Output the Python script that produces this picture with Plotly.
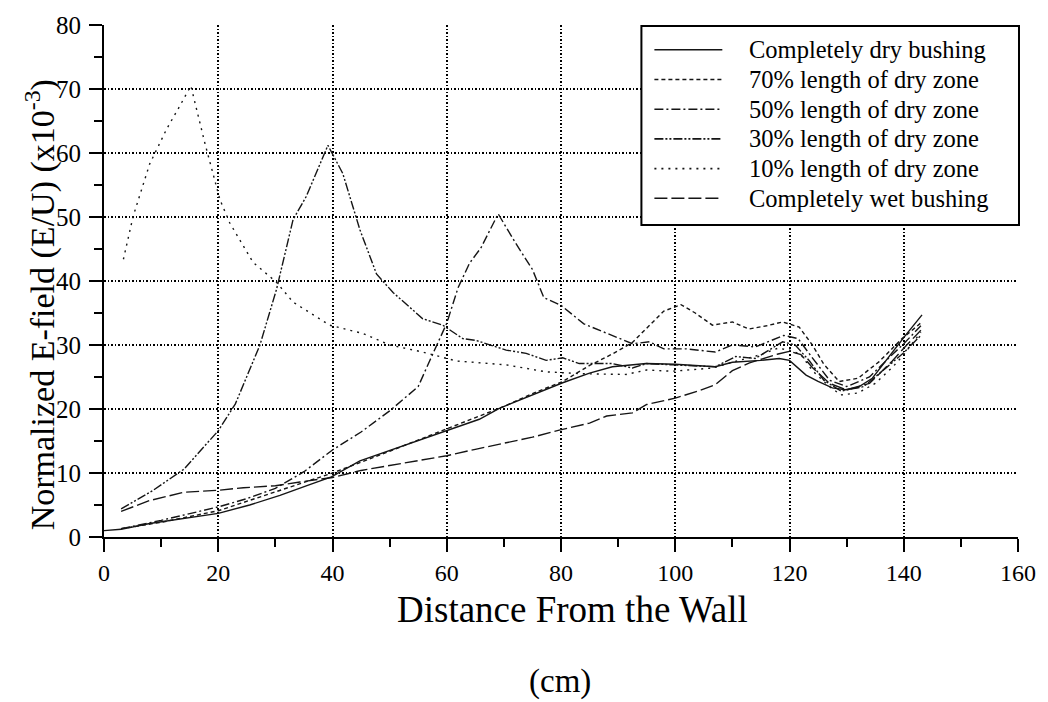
import plotly.graph_objects as go

# ---------------- data ----------------
series_names = [
    "Completely dry bushing",
    "70% length of dry zone",
    "50% length of dry zone",
    "30% length of dry zone",
    "10% length of dry zone",
    "Completely wet bushing",
]

x_dry = [0, 3, 8, 14, 20, 25.5, 30.8, 35.4, 39.8, 44.8, 49, 55, 60, 65.7, 69.2, 75.6, 80.3, 85, 89, 94.9,
         100, 107, 110, 115, 118.2, 120, 122.9, 125, 127.5, 129.8, 132, 134.5, 138, 140.3, 143.2]
y_dry = [1.0, 1.2, 2.1, 2.9, 3.7, 5.0, 6.5, 8.0, 9.4, 11.9, 13.2, 15.0, 16.6, 18.4, 20.1, 22.4, 24.1, 25.6, 26.6, 27.1,
         27.0, 26.6, 27.3, 27.6, 27.9, 27.6, 25.3, 24.3, 23.3, 23.0, 23.4, 24.8, 28.9, 31.5, 34.7]

x_70 = [3, 10, 20, 30, 40, 50, 60, 70, 75, 80.3, 85, 89, 92.5, 95, 98, 101, 103.5, 106.5, 110, 112.9,
        116, 118.8, 121.7, 124, 126, 128.7, 132, 135.7, 139.7, 143.2]
y_70 = [1.3, 2.3, 4.1, 7.1, 10.0, 13.4, 16.9, 20.4, 22.4, 24.3, 26.8, 28.6, 30.4, 32.6, 35.3, 36.3, 35.0, 33.1, 33.6, 32.5,
        33.0, 33.6, 32.8, 30.0, 27.0, 24.3, 24.8, 27.4, 31.0, 33.6]

x_50 = [3, 10, 20, 25, 30, 35, 40, 45, 50, 53, 55, 57, 60, 62, 64, 66, 69, 72, 75, 77, 80, 84, 89, 92.5,
        95.5, 98, 102, 107, 110, 114, 119, 121.5, 124, 127, 130, 134, 138, 140, 143]
y_50 = [1.3, 2.6, 4.7, 6.0, 7.6, 10.2, 13.6, 16.4, 19.7, 22.0, 23.5, 27.5, 33.4, 39.0, 42.8, 45.2, 50.5, 46.0, 41.8, 37.4,
        36.2, 33.3, 31.5, 30.2, 30.5, 29.4, 29.4, 28.9, 30.0, 29.7, 31.5, 31.0, 28.0, 24.5, 23.5, 25.0, 28.5, 30.2, 33.0]

x_30 = [3, 8.6, 14, 20, 23, 27.3, 30.2, 33.1, 35.4, 39.2, 41.8, 44.8, 47.7, 50.6, 55.8, 59.3, 62.8, 65.2, 70.4,
        73.9, 77.4, 80.3, 83.2, 89, 92.5, 95, 99.5, 107, 110.6, 114, 118.8, 121, 123.5, 126, 129, 133, 137, 140, 143]
y_30 = [4.4, 7.3, 10.6, 16.6, 20.8, 30.0, 38.7, 49.6, 53.2, 61.2, 56.8, 48.0, 41.1, 38.2, 34.1, 33.1, 31.0, 30.7, 29.2,
        28.7, 27.6, 28.0, 27.1, 27.1, 26.4, 27.1, 26.9, 26.6, 28.2, 27.9, 30.5, 30.0, 27.5, 24.5, 22.8, 23.5, 26.5, 28.8, 31.5]

x_10 = [3.4, 5.1, 8, 11, 13.3, 15.2, 17.7, 20.3, 22, 26.1, 30.2, 33.1, 39.5, 45.3, 50, 55.8, 61.7, 70.4, 77.4,
        84, 91.4, 95, 99.5, 106.5, 110, 115, 118, 120, 122, 124, 127, 129, 132, 135, 138, 140, 143]
y_10 = [43.4, 50.1, 58.3, 63.8, 67.4, 70.5, 61.4, 52.7, 49.1, 42.9, 39.8, 36.7, 33.1, 31.8, 30.0, 28.9, 27.5, 26.9, 25.8,
        25.5, 25.4, 26.1, 25.9, 26.4, 27.3, 28.5, 29.5, 29.2, 28.5, 26.0, 23.5, 22.2, 22.5, 24.0, 26.5, 28.5, 32.0]

x_wet = [3, 8, 14, 20, 24.4, 30, 34.3, 40, 45, 50, 55, 60, 65, 70.4, 75, 79.7, 85, 88, 92.5, 95, 100, 104,
         107, 110, 113, 118, 120, 122, 124, 127, 130, 134, 138, 140, 143]
y_wet = [4.0, 5.7, 7.0, 7.3, 7.7, 8.0, 8.6, 9.3, 10.4, 11.2, 12.0, 12.7, 13.7, 14.7, 15.6, 16.7, 17.8, 18.9, 19.4, 20.7,
         21.7, 22.8, 23.8, 26.0, 27.2, 28.6, 29.0, 28.5, 26.5, 24.0, 23.0, 24.0, 27.5, 29.5, 32.3]

x_ticks = [0, 20, 40, 60, 80, 100, 120, 140, 160]
y_ticks = [0, 10, 20, 30, 40, 50, 60, 70, 80]

x_title = "Distance From the Wall"
x_unit = "(cm)"
y_title = "Normalized E-field (E/U) (x10<sup>-3</sup>)"

# ---------------- styles ----------------
dashes = ["solid", "4px,3px", "9px,3px,2px,3px", "9px,2px,2px,2px,2px,2px", "2px,5px", "13px,4px"]
LINE_COLOR = "#151515"
FONT = "Liberation Serif"

xs = [x_dry, x_70, x_50, x_30, x_10, x_wet]
ys = [y_dry, y_70, y_50, y_30, y_10, y_wet]

fig = go.Figure()
for name, x, y, d in zip(series_names, xs, ys, dashes):
    fig.add_trace(go.Scatter(x=x, y=y, mode="lines", name=name, showlegend=False,
                             line=dict(color=LINE_COLOR, width=1.4, dash=d)))

# plot area in pixels: left 104, right 1019, top 20, bottom 537
L, R, T, B = 104, 1019, 20, 537
W, H = R - L, B - T


def px(xp):
    return (xp - L) / W


def py(yp):
    return (B - yp) / H


fig.update_layout(
    width=1048, height=702,
    margin=dict(l=L, r=1048 - R, t=T, b=702 - B),
    paper_bgcolor="white", plot_bgcolor="white",
    font=dict(family=FONT, color="black", size=23),
    showlegend=False,
)

GRID = dict(showgrid=True, gridcolor="black", gridwidth=1.6, griddash="1.5px,2px")

fig.update_xaxes(
    range=[0, 160], tickvals=x_ticks, ticktext=[str(v) for v in x_ticks],
    showline=True, linecolor="black", linewidth=2,
    ticks="outside", ticklen=13, tickwidth=2, tickcolor="black",
    minor=dict(dtick=10, tick0=0, ticks="outside", ticklen=8, tickwidth=2, tickcolor="black", showgrid=False),
    zeroline=False, tickfont=dict(family=FONT, size=24, color="black"),
    **GRID,
)
fig.update_yaxes(
    range=[0, 80], tickvals=y_ticks, ticktext=[str(v) for v in y_ticks],
    showline=True, linecolor="black", linewidth=2,
    ticks="outside", ticklen=13, tickwidth=2, tickcolor="black",
    minor=dict(dtick=5, tick0=0, ticks="outside", ticklen=8, tickwidth=2, tickcolor="black", showgrid=False),
    zeroline=False, tickfont=dict(family=FONT, size=25, color="black"), ticklabelstandoff=3,
    **GRID,
)

annotations = [
    dict(text=x_title, x=px(573), y=py(610), xref="paper", yref="paper", showarrow=False,
         xanchor="center", yanchor="middle", font=dict(family=FONT, size=37, color="black")),
    dict(text=x_unit, x=px(560), y=py(683), xref="paper", yref="paper", showarrow=False,
         xanchor="center", yanchor="middle", font=dict(family=FONT, size=33, color="black")),
    dict(text=y_title, x=px(40), y=py(303), xref="paper", yref="paper", showarrow=False, textangle=-90,
         xanchor="center", yanchor="middle", font=dict(family=FONT, size=34, color="black")),
]

shapes = [
    # legend box
    dict(type="rect", xref="paper", yref="paper", x0=px(642), x1=px(1020), y0=py(222), y1=py(21),
         line=dict(color="black", width=2), fillcolor="white", layer="above"),
]
row_y = [45, 75, 105, 135, 165, 195]
for name, d, ry in zip(series_names, dashes, row_y):
    shapes.append(dict(type="line", xref="paper", yref="paper", x0=px(655), x1=px(723), y0=py(ry), y1=py(ry),
                       line=dict(color=LINE_COLOR, width=1.6, dash=d), layer="above"))
    annotations.append(dict(text=name, x=px(748), y=py(ry), xref="paper", yref="paper", showarrow=False,
                            xanchor="left", yanchor="middle", font=dict(family=FONT, size=24.5, color="black")))

fig.update_layout(annotations=annotations, shapes=shapes)

fig.write_html("out.html")
